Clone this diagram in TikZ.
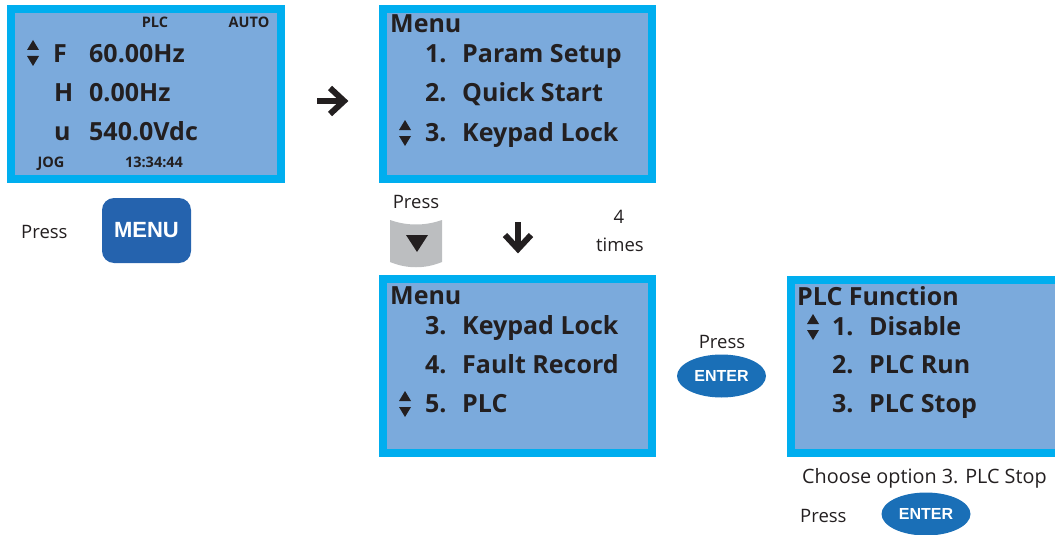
\documentclass[tikz,border=0pt]{standalone}
\usepackage{fontspec}
\setmainfont{Open Sans}
\newfontfamily\keyfont{Liberation Sans}
\usetikzlibrary{shapes.geometric,calc}
\definecolor{lcdcyan}{HTML}{00AEEF}
\definecolor{lcdfill}{HTML}{7BAADC}
\definecolor{txt}{HTML}{231F20}
\definecolor{menublue}{HTML}{2563AE}
\definecolor{enterblue}{HTML}{1A6FB7}
\definecolor{keygrey}{HTML}{BCBEC0}
\tikzset{
  panel/.style={draw=lcdcyan, line width=8pt, fill=lcdfill},
  big/.style={anchor=base west, inner sep=0pt, text=txt, font=\fontsize{25}{30}\selectfont\bfseries},
  tiny/.style={anchor=base, inner sep=0pt, text=txt, font=\fontsize{14.5}{16}\selectfont\bfseries},
  plain/.style={anchor=base west, inner sep=0pt, text=txt, font=\fontsize{18.5}{22}\selectfont},
  enterkey/.style={ellipse, fill=enterblue, text=white, inner sep=0pt, minimum width=89pt, minimum height=43pt, font=\keyfont\fontsize{16}{18}\selectfont\bfseries},
  updown/.pic={\fill[txt] (-6,-3)--(6,-3)--(0,-13)--cycle; \fill[txt] (-6,3)--(6,3)--(0,13)--cycle;},
  fatarrow/.style={draw=txt, line width=6pt, miter limit=10}
}
\begin{document}
\begin{tikzpicture}[x=1pt,y=-1pt]
\useasboundingbox (0,0) rectangle (1055,535);
\clip (0,0) rectangle (1055,535);
% ---------- panel 1 ----------
\draw[panel] (11,9) rectangle (281,179);
\node[tiny] (plc) at (155,28) {PLC};
\node[tiny] (auto) at (249,28) {AUTO};
\pic at (33,53) {updown};
\node[big] (f) at (53,63) {F};
\node[big] (fv) at (89,63) {60.00Hz};
\node[big] (h) at (54,102) {H};
\node[big] (hv) at (89,102) {0.00Hz};
\node[big] (u) at (54,140) {u};
\node[big] (uv) at (89,140) {540.0Vdc};
\node[tiny] (jog) at (51,167) {JOG};
\node[tiny] (clock) at (154,167) {13:34:44};
% press MENU
\node[plain] (press1) at (21,238) {Press};
\node[fill=menublue, rounded corners=12pt, minimum width=89pt, minimum height=65pt, inner sep=0pt,
      text=white, font=\keyfont\fontsize{22}{24}\selectfont\bfseries] (menu) at (146.5,230.5) {MENU};
% right arrow
\coordinate (ra1) at (317,101);
\coordinate (ra2) at (344,101);
\draw[fatarrow] (ra1) -- (ra2);
\draw[fatarrow] ($(ra2)+(-14,-13)$) -- (ra2) -- ($(ra2)+(-14,13)$);
% ---------- panel 2 ----------
\draw[panel] (383,9) rectangle (652,179);
\node[big] (m2) at (390,33) {Menu};
\node[big] (n21) at (425,63) {1.};
\node[big] (t21) at (462,63) {Param Setup};
\node[big] (n22) at (425,102) {2.};
\node[big] (t22) at (462,102) {Quick Start};
\pic at (405,133) {updown};
\node[big] (n23) at (425,141) {3.};
\node[big] (t23) at (462,141) {Keypad Lock};
% press down key 4 times
\node[plain, anchor=base] (press2) at (416,208) {Press};
\fill[keygrey] (390,220) .. controls (407,226) and (425,226) .. (442,220) -- (442,262)
  .. controls (425,269) and (407,269) .. (390,262) -- cycle;
\fill[txt] (406,235) -- (428,235) -- (417,252) -- cycle;
\coordinate (da1) at (518,222);
\coordinate (da2) at (518,249);
\draw[fatarrow] (da1) -- (da2);
\draw[fatarrow] ($(da2)+(-13,-14)$) -- (da2) -- ($(da2)+(13,-14)$);
\node[plain, anchor=base] (four) at (619,223) {4};
\node[plain, anchor=base] (times) at (620,251) {times};
% ---------- panel 3 ----------
\draw[panel] (383,279) rectangle (652,453);
\node[big] (m3) at (390,304) {Menu};
\node[big] (n31) at (425,334) {3.};
\node[big] (t31) at (462,334) {Keypad Lock};
\node[big] (n32) at (425,373) {4.};
\node[big] (t32) at (462,373) {Fault Record};
\pic at (405,404) {updown};
\node[big] (n33) at (425,412) {5.};
\node[big] (t33) at (462,412) {PLC};
% press ENTER
\node[plain, anchor=base] (press3) at (722,348) {Press};
\node[enterkey] (enter1) at (721.5,376) {ENTER};
% ---------- panel 4 ----------
\draw[panel] (791,280) rectangle (1070,453);
\node[big] (m4) at (797,305) {PLC Function};
\pic at (813,327) {updown};
\node[big] (n41) at (832,335) {1.};
\node[big] (t41) at (869,335) {Disable};
\node[big] (n42) at (832,373) {2.};
\node[big] (t42) at (869,373) {PLC Run};
\node[big] (n43) at (832,412) {3.};
\node[big] (t43) at (869,412) {PLC Stop};
\node[plain, font=\fontsize{19.8}{23}\selectfont] (choose) at (802,483) {Choose option 3. PLC Stop};
\node[plain] (press4) at (800,522) {Press};
\node[enterkey] (enter2) at (926,514) {ENTER};
\end{tikzpicture}
\end{document}
